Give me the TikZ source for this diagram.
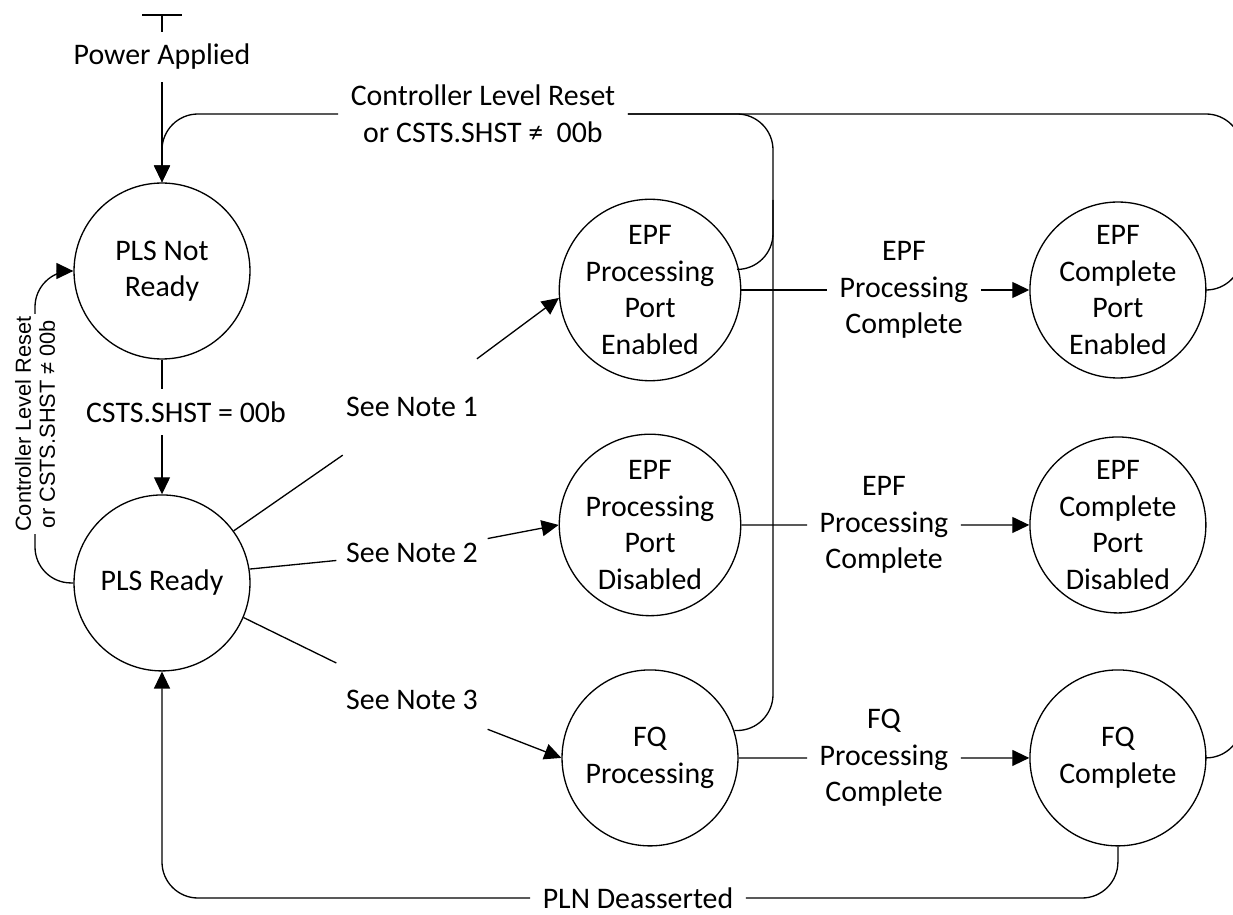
\documentclass[tikz,border=0pt]{standalone}
\usepackage{fontspec}
\setmainfont{Carlito}
\newfontfamily\armfont{Liberation Sans}
\usetikzlibrary{arrows.meta}

\begin{document}
\begin{tikzpicture}[x=0.02cm, y=-0.02cm, node distance=9.36cm, line width=0.75pt,
        font=\fontsize{17}{20.8}\selectfont]
        % State, label and connector styles
        \tikzstyle{state} = [circle, draw, minimum size=3.52cm, inner sep=0pt, align=center]
        \tikzstyle{tag} = [align=center, inner sep=0.24cm]
        \tikzstyle{note} = [rectangle, minimum width=3cm, minimum height=1.9cm]
        \tikzstyle{arrow} = [-{Triangle[length=0.34cm, width=0.32cm]}]
        \tikzstyle{elbow} = [rounded corners=0.72cm]

        \useasboundingbox (0,0) rectangle (1233,915);
        \clip (0,0) rectangle (1233,915);

        % States
        \node (notready) [state] at (162,271) {PLS Not\\Ready};
        \node (ready) [state, below of=notready, node distance=6.24cm] {PLS Ready};
        \node (epfen) [state] at (650,290) {EPF\\Processing\\Port\\Enabled};
        \node (epfdis) [state, below of=epfen, node distance=4.7cm] {EPF\\Processing\\Port\\Disabled};
        \node (fqproc) [state, below of=epfdis, node distance=4.66cm] {FQ\\Processing};
        \node (epfcen) [state, right of=epfen] {EPF\\Complete\\Port\\Enabled};
        \node (epfcdis) [state, right of=epfdis] {EPF\\Complete\\Port\\Disabled};
        \node (fqdone) [state, right of=fqproc] {FQ\\Complete};

        % Transition labels
        \node (pwr) [tag] at (162,57) {Power Applied};
        \node (shst) [tag] at (186,412) {CSTS.SHST = 00b};
        \node (rst) [tag] at (483,114) {Controller Level Reset\\or CSTS.SHST ≠~ 00b};
        \node (lvlrst) [tag, rotate=90, inner sep=1pt, font=\armfont\fontsize{12.4}{13.7}\selectfont]
            at (35,424) {Controller Level Reset\\or CSTS.SHST ≠ 00b};
        \node (note1) [note] at (412,407) {See Note 1};
        \node (note2) [note] at (412,553) {See Note 2};
        \node (note3) [note] at (412,700) {See Note 3};
        \node (epfenlbl) [tag] at (904,290) {EPF\\Processing\\Complete};
        \node (epfdislbl) [tag] at (884,525) {EPF\\Processing\\Complete};
        \node (fqlbl) [tag] at (884,758) {FQ\\Processing\\Complete};
        \node (pln) [tag] at (638,898) {PLN Deasserted};

        % Power on
        \coordinate (pwrtop) at (162,15);
        \draw ([xshift=-0.4cm]pwrtop) -- ([xshift=0.4cm]pwrtop);
        \draw (pwrtop) -- (pwr);
        \draw [arrow] (pwr) -- (notready);
        \draw (notready) -- (shst.north -| notready);
        \draw [arrow] (shst.south -| notready) -- (ready);

        % Reset loop on the left
        \draw [elbow] (ready.west) -| (lvlrst.west);
        \draw [arrow, elbow] (lvlrst.east) |- (notready.west);

        % Reset bus along the top
        \coordinate (busl) at (773,114);
        \coordinate (busj) at (773,200);
        \coordinate (busr) at (1242,114);
        \coordinate (busk) at (1242,250);
        \draw [arrow, elbow] (rst.west) -| (notready.north);
        \draw [elbow] (epfen.13) -| (busl) -- (rst.east);
        \draw [elbow] (fqproc.18) -| (busj);
        \draw [elbow] (epfcen.east) -| (busr) -- (rst.east);
        \draw [elbow] (fqdone.east) -| (busk);

        % Notes out of PLS Ready
        \draw (ready.36) -- (note1);
        \draw [arrow] (note1) -- (epfen.185);
        \draw (ready.9) -- (note2);
        \draw [arrow] (note2) -- (epfdis.west);
        \draw (ready.-23) -- (note3);
        \draw [arrow] (note3) -- (fqproc.west);

        % Processing complete
        \draw (epfen) -- (epfenlbl);
        \draw [arrow] (epfenlbl) -- (epfcen);
        \draw (epfdis) -- (epfdislbl);
        \draw [arrow] (epfdislbl) -- (epfcdis);
        \draw (fqproc) -- (fqlbl);
        \draw [arrow] (fqlbl) -- (fqdone);

        % PLN back to PLS Ready
        \draw [elbow] (fqdone.south) |- (pln.east);
        \draw [arrow, elbow] (pln.west) -| (ready.south);
    \end{tikzpicture}
\end{document}
